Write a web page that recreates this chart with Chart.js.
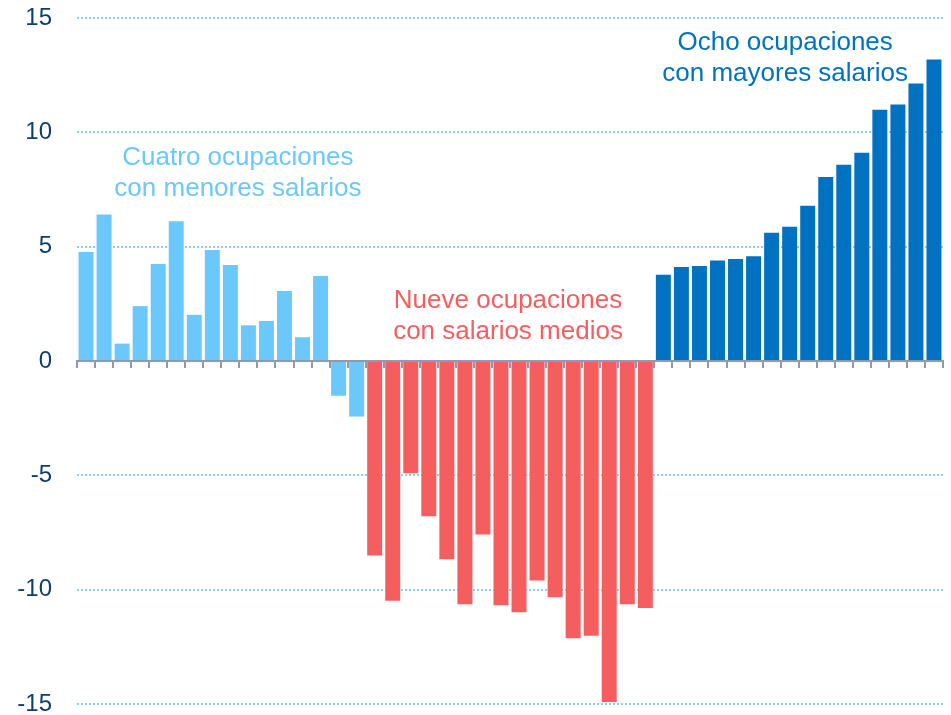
<!DOCTYPE html>
<html>
<head>
<meta charset="utf-8">
<script src="https://cdn.jsdelivr.net/npm/chart.js@4"></script>
<style>
  html, body { margin: 0; padding: 0; background: #ffffff; }
  #wrap { width: 951px; height: 715px; }
</style>
</head>
<body>
<div id="wrap"><canvas id="chart" width="951" height="715"></canvas></div>
<script>
// Variación por ocupación, agrupadas por nivel salarial
const lowValues = [4.77, 6.41, 0.76, 2.40, 4.24, 6.11, 2.02, 4.85, 4.20, 1.56, 1.75, 3.06, 1.04, 3.72, -1.52, -2.43];
const midValues = [-8.51, -10.49, -4.91, -6.79, -8.67, -10.64, -7.59, -10.68, -10.99, -9.60, -10.33, -12.13, -12.01, -14.91, -10.64, -10.80];
const highValues = [3.77, 4.11, 4.15, 4.39, 4.46, 4.58, 5.61, 5.87, 6.79, 8.05, 8.58, 9.11, 10.99, 11.22, 12.14, 13.19];

const yTicks = [-15, -10, -5, 0, 5, 10, 15];

const groupColors = { low: "#6bc8fd", mid: "#f45e5e", high: "#0072c1" };

// Group captions: text lines, colour, anchor in data units (category index, value)
const groupLabels = [
    { lines: ["Cuatro ocupaciones", "con menores salarios"], color: groupColors.low, at: [8.42, 8.88] },
    { lines: ["Nueve ocupaciones", "con salarios medios"], color: groupColors.mid, at: [23.39, 2.62] },
    { lines: ["Ocho ocupaciones", "con mayores salarios"], color: groupColors.high, at: [38.75, 13.9] },
];

const values = [...lowValues, ...midValues, ...highValues];
const labels = values.map((_, i) => String(i + 1));
const colors = [
    ...lowValues.map(() => groupColors.low),
    ...midValues.map(() => groupColors.mid),
    ...highValues.map(() => groupColors.high),
];

const captionPlugin = {
    id: "captions",
    afterDatasetsDraw(chart) {
        const { ctx, scales } = chart;
        ctx.save();
        ctx.font = "26px 'Liberation Sans', Arial, sans-serif";
        ctx.textAlign = "center";
        ctx.textBaseline = "middle";
        groupLabels.forEach((g) => {
            const x = scales.x.getPixelForValue(g.at[0]);
            const y = scales.y.getPixelForValue(g.at[1]);
            ctx.fillStyle = g.color;
            g.lines.forEach((line, i) => {
                ctx.fillText(line, x, y + i * 31);
            });
        });
        ctx.restore();
    },
};

const ctx = document.getElementById("chart").getContext("2d");

new Chart(ctx, {
    type: "bar",
    data: {
        labels: labels,
        datasets: [
            {
                data: values,
                backgroundColor: colors,
                borderWidth: 0,
                barPercentage: 0.83,
                categoryPercentage: 1,
            },
        ],
    },
    options: {
        responsive: false,
        animation: false,
        layout: {
            padding: { top: 18, right: 8, bottom: 11, left: 0 },
        },
        plugins: {
            legend: { display: false },
            tooltip: { enabled: false },
        },
        scales: {
            x: {
                position: { y: 0 },
                // axis sits on the zero line, so it should not eat chart height
                afterFit(scale) {
                    scale.height = 0;
                },
                ticks: { display: false },
                grid: {
                    offset: true,
                    drawOnChartArea: false,
                    drawTicks: true,
                    tickLength: 6,
                    color: "#9199ae",
                    lineWidth: 2,
                },
                border: { display: true, color: "#9199ae", width: 2 },
            },
            y: {
                min: -15,
                max: 15,
                afterFit(scale) {
                    scale.width = 77;
                    scale.paddingTop = 0;
                    scale.paddingBottom = 0;
                },
                afterBuildTicks(scale) {
                    scale.ticks = yTicks.map((v) => ({ value: v }));
                },
                ticks: {
                    color: "#0d3e70",
                    padding: 25,
                    font: { family: "'Liberation Sans', Arial, sans-serif", size: 24 },
                },
                grid: {
                    drawTicks: false,
                    color: (c) => (c.tick && c.tick.value === 0 ? "rgba(0,0,0,0)" : "#86cff8"),
                    lineWidth: 2,
                    borderDash: [2, 2],
                },
                border: { display: false, dash: [2, 2] },
            },
        },
    },
    plugins: [captionPlugin],
});
</script>
</body>
</html>
